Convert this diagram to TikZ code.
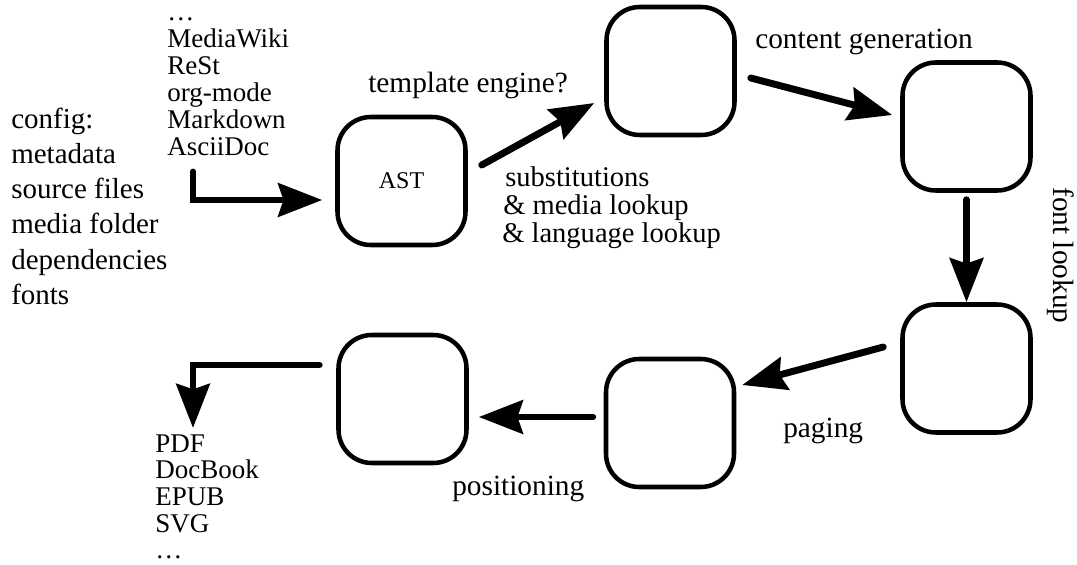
\documentclass[tikz,border=0pt]{standalone}
\usepackage{fontspec}
\setmainfont{Liberation Serif}
\usetikzlibrary{arrows.meta,calc}
\newcommand\LeftFont{\fontsize{21.75pt}{26pt}\selectfont}
\newcommand\ListFont{\fontsize{20.25pt}{20pt}\selectfont}
\newcommand\LabFont{\fontsize{22pt}{26pt}\selectfont}
\newcommand\SubFont{\fontsize{21.4pt}{21pt}\selectfont}
\newcommand\AstFont{\fontsize{18pt}{20pt}\selectfont}
\begin{document}
\begin{tikzpicture}[x=0.75pt,y=-0.75pt,
  box/.style={draw,line width=3.4pt,rounded corners=25pt,minimum width=96pt,minimum height=96pt,inner sep=0pt},
  arr/.style={line width=5.2pt,line cap=round,-{Stealth[length=33pt,width=25pt,inset=4pt]}},
  txt/.style={anchor=base west,inner sep=0pt}]
\useasboundingbox (0,0) rectangle (1077,564);

% boxes
\node[box,font=\AstFont] (ast) at (401.5,181) {AST};
\node[box] (b2) at (670.5,71) {};
\node[box] (b3) at (966.5,126.5) {};
\node[box] (b4) at (966.5,368.5) {};
\node[box] (b5) at (670,423) {};
\node[box] (b6) at (402.5,399) {};

% left config list
\foreach \t [count=\i] in {config:,metadata,source files,media folder,dependencies,fonts}
  \node[txt,font=\LeftFont] (cfg\i) at (11,{128+35.3*(\i-1)}) {\t};

% input formats list
\foreach \t [count=\i] in {\ldots,MediaWiki,ReSt,org-mode,Markdown,AsciiDoc}
  \node[txt,font=\ListFont] (in\i) at (167,{20+27*(\i-1)}) {\t};

% output formats list
\foreach \t [count=\i] in {PDF,DocBook,EPUB,SVG,\ldots}
  \node[txt,font=\ListFont] (out\i) at (155,{452+26.7*(\i-1)}) {\t};

% labels
\node[txt,font=\LabFont] (lte) at (368,92) {template engine?};
\node[txt,font=\LabFont] (lcg) at (755,48) {content generation};
\node[txt,font=\LabFont,rotate=-90] (lfl) at (1053,187) {font lookup};
\node[txt,font=\LabFont] (lpg) at (783,437) {paging};
\node[txt,font=\LabFont] (lps) at (452,495) {positioning};
\node[txt,font=\SubFont] (ls1) at (505,186) {substitutions};
\node[txt,font=\SubFont] (ls2) at (503,214) {\& media lookup};
\node[txt,font=\SubFont] (ls3) at (502,242) {\& language lookup};

% connectors
\coordinate (src) at (193,172);
\coordinate (dst) at (193,428);
\draw[arr] (src) |- ($(ast.west)+(-13,19)$);
\draw[arr] ($(ast.east)+(14,-16)$) -- ($(b2.west)+(-10,32)$);
\draw[arr] ($(b2.east)+(14,7)$) -- ($(b3.west)+(-8,-11.5)$);
\draw[arr] ($(b3.south)+(0,7)$) -- (b4.north);
\draw[arr] ($(b4.west)+(-17,-21.5)$) -- ($(b5.east)+(6,-38)$);
\draw[arr] ($(b5.west)+(-11,-6)$) -- ($(b6.east)+(10,18)$);
\draw[arr] ($(b6.west)+(-17,-34)$) -| (dst);
\end{tikzpicture}
\end{document}
